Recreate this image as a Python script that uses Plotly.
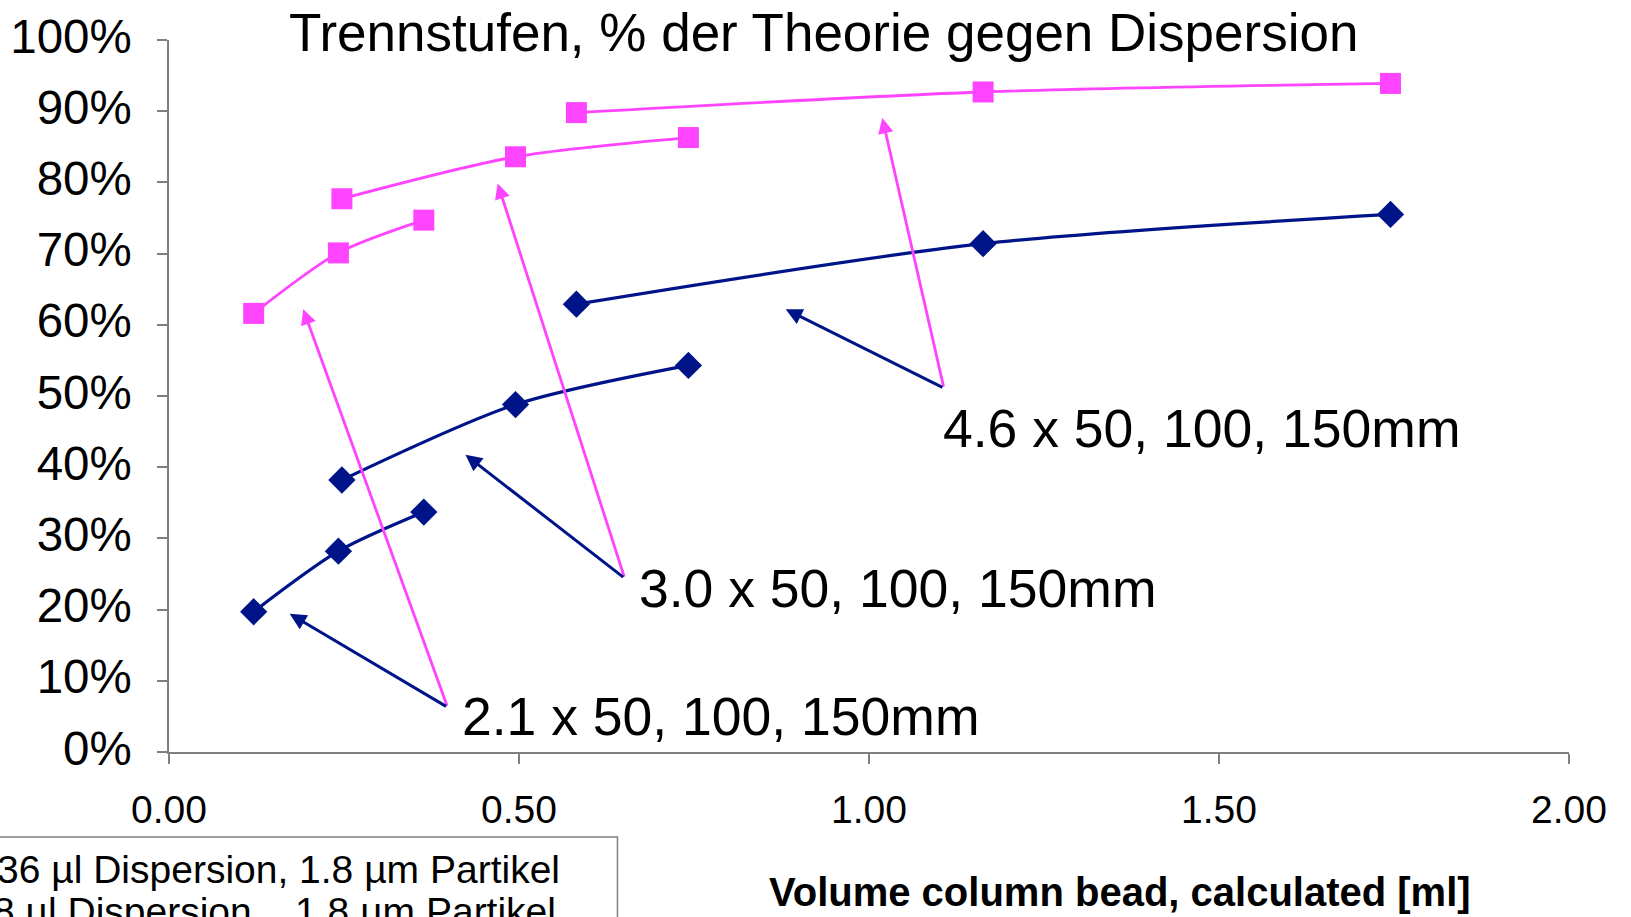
import plotly.graph_objects as go

# Column bed volume [ml] for 50, 100, 150 mm columns of each inner diameter
vol_21 = [0.121, 0.242, 0.364]
vol_30 = [0.247, 0.495, 0.742]
vol_46 = [0.582, 1.163, 1.745]

# Plate count, % of theoretical, for the two system dispersions
eff_36ul_21 = [19.7, 28.2, 33.7]
eff_36ul_30 = [38.2, 48.8, 54.3]
eff_36ul_46 = [62.9, 71.4, 75.5]

eff_8ul_21 = [61.6, 70.1, 74.7]
eff_8ul_30 = [77.7, 83.6, 86.3]
eff_8ul_46 = [89.8, 92.7, 93.9]

x_ticks = [0.0, 0.5, 1.0, 1.5, 2.0]
y_ticks = list(range(0, 101, 10))
y_tick_text = [f"{v}%" for v in y_ticks]

BLUE = "#001489"
PINK = "#ff44ff"
FONT = "Arial, 'Liberation Sans', sans-serif"

W, H = 1631, 917
L, R, T, B = 168.5, 62.4, 39.5, 165

fig = go.Figure()

for vols, effs in [(vol_21, eff_36ul_21), (vol_30, eff_36ul_30), (vol_46, eff_36ul_46)]:
    fig.add_trace(go.Scatter(
        x=vols, y=effs, mode="lines+markers",
        line=dict(color=BLUE, width=3.2, shape="spline", smoothing=0.8),
        marker=dict(symbol="diamond", size=21, color=BLUE),
        showlegend=False, hoverinfo="skip"))

for vols, effs in [(vol_21, eff_8ul_21), (vol_30, eff_8ul_30), (vol_46, eff_8ul_46)]:
    fig.add_trace(go.Scatter(
        x=vols, y=effs, mode="lines+markers",
        line=dict(color=PINK, width=2.8, shape="spline", smoothing=0.8),
        marker=dict(symbol="square", size=21, color=PINK),
        showlegend=False, hoverinfo="skip"))

# Callout labels with arrows pointing at both curves of each column diameter
callouts = [
    ("4.6 x 50, 100, 150mm", (1.103, 45.4), (1.107, 51.1), (1.019, 89.05), (0.881, 62.2)),
    ("3.0 x 50, 100, 150mm", (0.669, 22.9), (0.651, 24.4), (0.4695, 79.85), (0.4235, 41.75)),
    ("2.1 x 50, 100, 150mm", (0.415, 4.96), (0.398, 6.28), (0.1917, 62.2), (0.1724, 19.4)),
]
for label, (tx, ty), (ax_, ay_), pink_head, blue_head in callouts:
    fig.add_annotation(x=tx, y=ty, xref="x", yref="y", text=label, showarrow=False,
                       xanchor="left", yanchor="middle",
                       font=dict(family=FONT, size=53.5, color="black"))
    for (hx, hy), col, wid in [(pink_head, PINK, 2.8), (blue_head, BLUE, 3)]:
        fig.add_annotation(x=hx, y=hy, xref="x", yref="y", ax=ax_, ay=ay_,
                           axref="x", ayref="y", text="", showarrow=True,
                           arrowhead=2, arrowsize=1.1, arrowwidth=wid,
                           arrowcolor=col, standoff=0, startstandoff=0)

pw = W - L - R
ph = H - T - B

def px(x):
    return (x - L) / pw

def py(y):
    return (H - B - y) / ph

# Title
fig.add_annotation(x=px(823), y=py(32), xref="paper", yref="paper",
                   text="Trennstufen, % der Theorie gegen Dispersion", showarrow=False,
                   xanchor="center", yanchor="middle",
                   font=dict(family=FONT, size=53, color="black"))

# X axis title
fig.add_annotation(x=px(1120), y=py(892), xref="paper", yref="paper",
                   text="<b>Volume column bead, calculated [ml]</b>", showarrow=False,
                   xanchor="center", yanchor="middle",
                   font=dict(family=FONT, size=40, color="black"))

# Legend box (partly outside the page)
fig.add_shape(type="rect", xref="paper", yref="paper",
              x0=px(-20), x1=px(617), y0=py(837), y1=py(960),
              line=dict(color="#7f7f7f", width=1.5), fillcolor="white", layer="above")
fig.add_annotation(x=px(562), y=py(870), xref="paper", yref="paper",
                   text="36 µl Dispersion, 1.8 µm Partikel", showarrow=False,
                   xanchor="right", yanchor="middle",
                   font=dict(family=FONT, size=39, color="black"))
fig.add_annotation(x=px(558), y=py(912), xref="paper", yref="paper",
                   text="8 µl Dispersion,\u00a0\u00a0 1.8 µm Partikel", showarrow=False,
                   xanchor="right", yanchor="middle",
                   font=dict(family=FONT, size=39, color="black"))

fig.update_layout(
    width=W, height=H,
    margin=dict(l=L, r=R, t=T, b=B, pad=0, autoexpand=False),
    paper_bgcolor="white", plot_bgcolor="white",
    font=dict(family=FONT, color="black"),
    showlegend=False,
)

fig.update_xaxes(
    range=[0, 2], tickvals=x_ticks, tickformat=".2f", automargin=False,
    showgrid=False, zeroline=False,
    showline=True, linecolor="#7f7f7f", linewidth=1.5,
    ticks="outside", ticklen=10, tickwidth=1.5, tickcolor="#7f7f7f",
    tickfont=dict(family=FONT, size=39, color="black"),
    ticklabelstandoff=12,
)
fig.update_yaxes(
    range=[0, 100], tickvals=y_ticks, ticktext=y_tick_text, automargin=False,
    showgrid=False, zeroline=False,
    showline=True, linecolor="#7f7f7f", linewidth=1.5,
    ticks="outside", ticklen=10, tickwidth=1.5, tickcolor="#7f7f7f",
    tickfont=dict(family=FONT, size=47.5, color="black"),
    ticklabelstandoff=16, ticklabelshift=-4,
)

fig.write_html("out.html")
